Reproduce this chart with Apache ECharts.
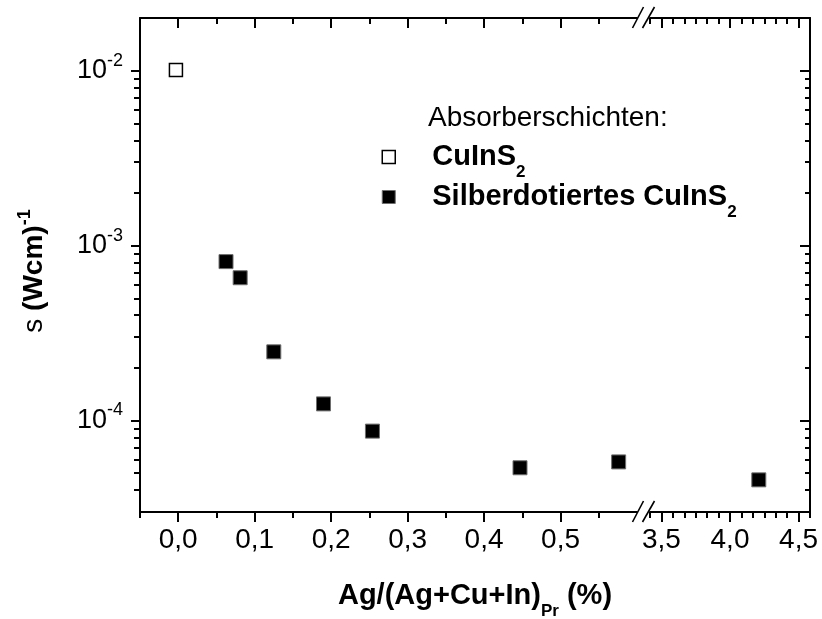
<!DOCTYPE html>
<html>
<head>
<meta charset="utf-8">
<title>Leitfähigkeit von Absorberschichten</title>
<script src="https://cdn.jsdelivr.net/npm/echarts@6/dist/echarts.min.js"></script>
<style>
  html, body { margin: 0; padding: 0; background: #fff; }
  #chart { width: 822px; height: 619px; }
</style>
</head>
<body>
<div id="chart"></div>
<script>
// Conductivity of the absorber layers versus silver content (broken x axis).
const xUndoped = [-0.003];
const sigmaUndoped = [0.0101];

const xDopedLow = [0.0625, 0.081, 0.125, 0.19, 0.254, 0.447, 0.576];
const sigmaDopedLow = [8.1e-4, 6.55e-4, 2.47e-4, 1.245e-4, 8.7e-5, 5.37e-5, 5.8e-5];

const xDopedHigh = [4.21];
const sigmaDopedHigh = [4.58e-5];

// Tick positions
const xMajorLow = [0, 0.1, 0.2, 0.3, 0.4, 0.5];
const xMinorLow = [-0.05, 0.05, 0.15, 0.25, 0.35, 0.45, 0.55];
const xMajorHigh = [3.5, 4.0, 4.5];
const xMinorHigh = [41 / 12, 43 / 12, 44 / 12, 45 / 12, 46 / 12, 47 / 12,
                    49 / 12, 50 / 12, 51 / 12, 52 / 12, 53 / 12, 55 / 12];
const yMajor = [1e-4, 1e-3, 1e-2];
const yMinor = [4e-5, 5e-5, 6e-5, 7e-5, 8e-5, 9e-5,
                2e-4, 3e-4, 4e-4, 5e-4, 6e-4, 7e-4, 8e-4, 9e-4,
                2e-3, 3e-3, 4e-3, 5e-3, 6e-3, 7e-3, 8e-3, 9e-3];

const xRangeLow = [-0.05, 0.6];
const xRangeHigh = [41 / 12, 55 / 12];
const yRange = [3e-5, 2e-2];

const legendNames = ['CuInS2', 'Silberdotiertes CuInS2'];

const FONT = '"Liberation Sans", Arial, Helvetica, sans-serif';
const INK = '#000';

const zip = (xs, ys) => xs.map((x, i) => [x, ys[i]]);
const commaNum = v => v.toFixed(1).replace('.', ',');

const openStyle = { color: '#fff', borderColor: INK, borderWidth: 1.5, opacity: 1 };
const filledStyle = { color: '#000', borderColor: '#6e6e6e', borderWidth: 1, opacity: 1 };

function xAxisDef(gridIndex, range, position, ticks, len, showLine, withLabels) {
  return {
    type: 'value', gridIndex, position, min: range[0], max: range[1],
    axisLine: { show: showLine, onZero: false, lineStyle: { color: INK, width: 2 } },
    axisTick: { show: true, inside: position === 'top', length: len, customValues: ticks,
                lineStyle: { color: INK, width: 2 } },
    axisLabel: withLabels ? {
      show: true, customValues: ticks, formatter: commaNum, margin: 14,
      fontSize: 28, fontFamily: FONT, color: INK
    } : { show: false },
    splitLine: { show: false }
  };
}

function yAxisDef(gridIndex, position, ticks, len, showLine, withLabels) {
  return {
    type: 'log', logBase: 10, gridIndex, position, min: yRange[0], max: yRange[1],
    axisLine: { show: showLine, onZero: false, lineStyle: { color: INK, width: 2 } },
    axisTick: { show: true, inside: position === 'right', length: len, customValues: ticks,
                lineStyle: { color: INK, width: 2 } },
    axisLabel: withLabels ? {
      show: true, customValues: ticks, margin: 17,
      formatter: v => '{t|10}{e|' + Math.round(Math.log10(v)) + '}',
      rich: {
        t: { fontSize: 27, lineHeight: 30, fontFamily: FONT, color: INK },
        e: { fontSize: 18, lineHeight: 18, fontFamily: FONT, color: INK, padding: [0, 0, 20, 0] }
      }
    } : { show: false },
    splitLine: { show: false }
  };
}

const chart = echarts.init(document.getElementById('chart'), null, { renderer: 'canvas' });

const PLOT = { left: 140, top: 18, bottom: 512, breakL: 637, breakR: 650, right: 810 };
const breakX = (PLOT.breakL + PLOT.breakR) / 2;

function breakMarks(yAxisLine) {
  return [0, 1].map(i => ({
    type: 'line',
    shape: { x1: breakX - 11 + i * 10, y1: yAxisLine + 10, x2: breakX + i * 11, y2: yAxisLine - 11 },
    style: { stroke: INK, lineWidth: 1.6 },
    z: 10
  }));
}

const option = {
  animation: false,
  backgroundColor: '#fff',
  grid: [
    { left: PLOT.left, top: PLOT.top, width: PLOT.breakL - PLOT.left, height: PLOT.bottom - PLOT.top },
    { left: PLOT.breakR, top: PLOT.top, width: PLOT.right - PLOT.breakR, height: PLOT.bottom - PLOT.top }
  ],
  xAxis: [
    xAxisDef(0, xRangeLow, 'bottom', xMajorLow, 10, true, true),
    xAxisDef(0, xRangeLow, 'bottom', xMinorLow, 6, false, false),
    xAxisDef(0, xRangeLow, 'top', xMajorLow, 10, true, false),
    xAxisDef(0, xRangeLow, 'top', xMinorLow, 6, false, false),
    xAxisDef(1, xRangeHigh, 'bottom', xMajorHigh, 10, true, true),
    xAxisDef(1, xRangeHigh, 'bottom', xMinorHigh, 6, false, false),
    xAxisDef(1, xRangeHigh, 'top', xMajorHigh, 10, true, false),
    xAxisDef(1, xRangeHigh, 'top', xMinorHigh, 6, false, false)
  ],
  yAxis: [
    yAxisDef(0, 'left', yMajor, 9, true, true),
    yAxisDef(0, 'left', yMinor, 6, false, false),
    yAxisDef(1, 'right', yMajor, 10, true, false),
    yAxisDef(1, 'right', yMinor, 5, false, false)
  ],
  legend: {
    orient: 'vertical', left: 381.5, top: 133, padding: 0,
    itemWidth: 13, itemHeight: 13, itemGap: -8, selectedMode: false,
    data: [
      { name: legendNames[0], icon: 'rect', itemStyle: openStyle },
      { name: legendNames[1], icon: 'rect', itemStyle: filledStyle }
    ],
    formatter: name => '{m|' + name.slice(0, -1) + '}{d|2}',
    textStyle: {
      rich: {
        m: { fontSize: 29, fontWeight: 'bold', lineHeight: 32, fontFamily: FONT, color: INK, padding: [0, 0, 0, 32] },
        d: { fontSize: 17, fontWeight: 'bold', lineHeight: 17, fontFamily: FONT, color: INK, padding: [31, 0, 0, 0] }
      }
    }
  },
  series: [
    {
      type: 'scatter', name: legendNames[0], xAxisIndex: 0, yAxisIndex: 0,
      data: zip(xUndoped, sigmaUndoped),
      symbol: 'rect', symbolSize: 13,
      itemStyle: openStyle,
      emphasis: { disabled: true }, z: 3
    },
    {
      type: 'scatter', name: legendNames[1], xAxisIndex: 0, yAxisIndex: 0,
      data: zip(xDopedLow, sigmaDopedLow),
      symbol: 'rect', symbolSize: 14,
      itemStyle: filledStyle,
      emphasis: { disabled: true }, z: 3
    },
    {
      type: 'scatter', name: legendNames[1], xAxisIndex: 4, yAxisIndex: 2,
      data: zip(xDopedHigh, sigmaDopedHigh),
      symbol: 'rect', symbolSize: 14,
      itemStyle: filledStyle,
      emphasis: { disabled: true }, z: 3
    }
  ],
  graphic: [
    {
      type: 'text', x: 428, y: 118,
      style: { text: 'Absorberschichten:', fontSize: 28, fontFamily: FONT, fill: INK,
               align: 'left', verticalAlign: 'middle' }
    },
    {
      type: 'text', x: 475, y: 596,
      style: {
        text: '{b|Ag/(Ag+Cu+In)}{s|Pr}{b| (%)}', align: 'center', verticalAlign: 'middle',
        rich: {
          b: { fontSize: 29, fontWeight: 'bold', lineHeight: 32, fontFamily: FONT, fill: INK },
          s: { fontSize: 17, fontWeight: 'bold', lineHeight: 17, fontFamily: FONT, fill: INK, padding: [30, 0, 0, 0] }
        }
      }
    },
    {
      type: 'text', x: 34, y: 271, rotation: Math.PI / 2,
      style: {
        text: '{r|s }{b|(Wcm)}{p|-1}', align: 'center', verticalAlign: 'middle',
        rich: {
          r: { fontSize: 28, lineHeight: 30, fontFamily: FONT, fill: INK },
          b: { fontSize: 28, fontWeight: 'bold', lineHeight: 30, fontFamily: FONT, fill: INK },
          p: { fontSize: 18, fontWeight: 'bold', lineHeight: 18, fontFamily: FONT, fill: INK, padding: [0, 0, 18, 0] }
        }
      }
    },
    ...breakMarks(PLOT.bottom),
    ...breakMarks(PLOT.top)
  ]
};

chart.setOption(option);
</script>
</body>
</html>
